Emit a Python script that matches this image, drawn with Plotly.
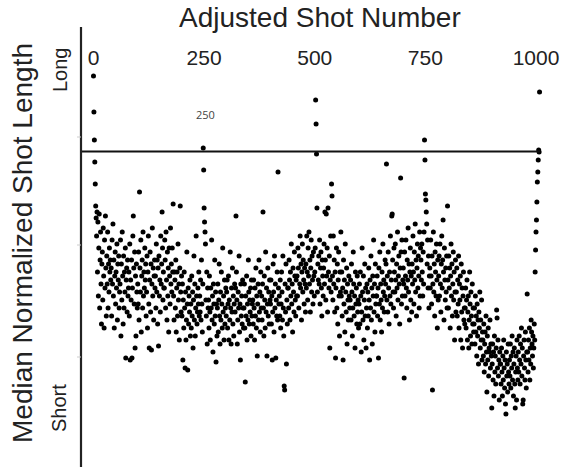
import plotly.graph_objects as go

# Median normalized shot length per adjusted shot number (arbitrary units)
seg_0_199 = [
    96, 87, 80, 74.5, 69, 63.5, 60.5, 56, 62, 47, 59.5, 41, 53, 61.5, 38, 50, 57, 44, 34, 49,
    52, 40, 58, 46, 33, 55, 43, 61, 48, 36, 51, 44, 57, 38, 49, 42, 53, 47, 50, 45,
    48, 36, 55, 44, 59, 41, 50, 33, 46, 52, 39, 47, 43, 54, 35, 49, 45, 51, 38, 42,
    44, 55, 31, 49, 40, 57, 46, 34, 51, 38, 47, 42, 53, 25.5, 45, 48, 37, 50, 41, 43,
    47, 36, 54, 25, 45, 40, 50, 25.5, 43, 56, 61, 48, 39, 52, 28, 46, 31, 49, 42, 38,
    44, 39, 52, 35, 67, 48, 42, 55, 32, 46, 50, 38, 57, 41, 47, 43, 53, 45, 49, 36,
    42, 51, 33, 47, 56, 39, 28, 45, 52, 37, 49, 27.5, 44, 58, 41, 48, 35, 46, 50, 43,
    46, 38, 54, 42, 50, 34, 48, 28.5, 51, 41, 45, 37, 56, 44, 49, 62, 53, 40, 47, 43,
    43, 55, 50, 38, 57, 45, 35, 52, 41, 48, 32, 53, 46, 39, 58, 44, 49, 42, 53, 47,
    64, 41, 35, 47, 45, 38, 50, 32, 43, 47, 36, 54, 40, 44, 30, 48, 63.5, 42, 37, 46,
]
seg_200_399 = [
    36, 44, 25, 40, 33, 47, 38, 23, 42, 30, 35, 52, 39, 22.5, 43, 34, 41, 37, 45, 31,
    39, 33, 46, 36, 42, 28, 40, 51, 35, 44, 31, 38, 56, 41, 34, 37, 43, 39, 47, 36,
    41, 37, 45, 35, 50, 39, 32, 44, 78, 72.5, 63, 59.5, 57, 54, 40, 36, 47, 29, 43, 38,
    40, 33, 46, 37, 30, 43, 38, 55, 35, 41, 27, 44, 39, 34, 50, 36, 42, 24.5, 39, 31,
    38, 44, 32, 40, 49, 36, 29, 42, 35, 47, 39, 33, 53, 37, 41, 30, 45, 34, 38, 43,
    36, 42, 45, 33, 39, 46, 30, 40, 35, 52, 38, 29, 43, 37, 48, 34, 41, 31, 39, 44,
    37, 43, 61, 47, 40, 29, 35, 42, 38, 51, 32, 39, 25, 44, 36, 41, 34, 45, 38, 33,
    38, 44, 33, 19.5, 41, 36, 46, 30, 39, 35, 50, 42, 34, 40, 37, 43, 31, 45, 36, 39,
    40, 34, 45, 38, 30, 43, 36, 48, 33, 41, 26, 39, 44, 35, 50, 37, 42, 32, 47, 38,
    41, 35, 44, 62, 38, 31, 46, 40, 33, 52, 37, 43, 26, 39, 48, 36, 42, 34, 45, 40,
]
seg_400_599 = [
    39, 45, 34, 41, 25, 37, 49, 42, 32, 51, 38, 44, 25.5, 40, 36, 47, 35, 72, 43, 39,
    41, 36, 45, 33, 39, 47, 42, 35, 51, 38, 31, 18.5, 17.5, 44, 37, 49, 24, 40, 34, 43,
    43, 38, 50, 45, 35, 47, 41, 54, 39, 44, 32, 48, 42, 37, 52, 46, 40, 36, 45, 41,
    46, 41, 53, 48, 38, 51, 44, 56, 43, 49, 35, 47, 54, 42, 50, 45, 39, 48, 44, 37,
    49, 43, 56, 47, 40, 53, 46, 57, 44, 50, 37, 48, 55, 42, 51, 45, 39, 52, 46, 41,
    47, 53, 90, 84, 76.5, 63, 42, 49, 45, 51, 44, 55, 39, 48, 52, 43, 36, 50, 46, 41,
    48, 54, 44, 62, 50, 40, 61.5, 46, 53, 37, 63, 47, 43, 51, 28, 45, 56, 42, 69, 66,
    46, 40, 56, 44, 50, 37, 47, 25.5, 43, 53, 38, 49, 34, 45, 52, 41, 31, 47, 42, 57,
    41, 47, 36, 43, 25, 50, 39, 45, 32, 54, 42, 37, 48, 29, 44, 40, 35, 46, 41, 38,
    40, 45, 35, 49, 42, 31, 38, 52, 44, 36, 41, 28, 47, 39, 43, 34, 46, 37, 40, 33,
]
seg_600_799 = [
    39, 44, 34, 47, 41, 27, 37, 53, 42, 35, 46, 30, 40, 49, 36, 43, 28, 38, 44, 33,
    42, 36, 48, 40, 25, 45, 38, 51, 35, 43, 29, 46, 41, 55, 37, 44, 32, 49, 39, 41,
    41, 46, 36, 43, 25.5, 48, 39, 52, 35, 44, 40, 32, 47, 38, 54, 42, 45, 37, 41, 50,
    44, 49, 74, 40, 46, 37, 52, 43, 34, 47, 41, 56, 39, 45, 61, 61.5, 50, 42, 38, 53,
    47, 42, 54, 45, 36, 49, 43, 57, 40, 46, 51, 44, 34, 48, 70.5, 52, 39, 55, 41, 45,
    48, 44, 20.5, 52, 41, 46, 55, 43, 38, 50, 45, 58, 42, 49, 35, 47, 53, 40, 46, 37,
    49, 44, 56, 47, 39, 52, 45, 59, 42, 50, 36, 48, 54, 43, 51, 46, 38, 57, 41, 53,
    50, 45, 54, 47, 41, 52, 44, 57, 80, 75, 66.5, 65, 62, 59, 49, 55, 43, 51, 38, 46,
    48, 43, 55, 46, 39, 51, 17.5, 44, 57, 42, 49, 36, 52, 47, 41, 54, 45, 33, 50, 40,
    46, 51, 41, 54, 44, 37, 49, 56, 43, 50, 60, 47, 35, 53, 45, 40, 48, 42, 51, 38,
]
seg_800_end = [
    63.5, 45, 38, 51, 43, 48, 33, 46, 54, 41, 49, 36, 44, 52, 40, 47, 30, 42, 50, 37,
    42, 48, 36, 45, 39, 51, 33, 44, 40, 46, 30, 49, 37, 43, 28, 41, 47, 35, 38, 34,
    38, 43, 33, 40, 45, 30, 37, 41, 28, 35, 47, 39, 31, 42, 36, 29, 44, 34, 38, 32,
    34, 38, 29, 41, 32, 36, 26, 39, 31, 35, 24, 37, 33, 42, 28, 35, 30, 40, 25, 32,
    30, 26, 34, 22, 29, 32, 24, 36, 27, 17, 31, 25, 33, 21, 28, 27, 35, 23, 29, 26,
    13, 24, 29, 20, 27, 16, 31, 22, 26, 19, 28, 37.5, 35.5, 23, 30, 21, 25, 15, 27, 24,
    24, 19, 28, 22, 16, 26, 20, 30, 23, 18, 25, 14, 11.5, 27, 21, 24, 17, 29, 22, 19,
    25, 21, 29, 18, 26, 23, 31, 20, 27, 16, 24, 28, 19, 13, 22, 26, 15, 30, 23, 20,
    27, 22, 31, 25, 19, 29, 24, 33, 21, 28, 14, 15, 26, 30, 23, 20, 32, 25, 18, 27,
    41.5, 27, 22, 30, 25, 33, 20, 28, 24, 35, 32, 29, 26, 31, 23, 28, 34, 30, 47, 52.5,
    57, 60, 64.5, 69.5, 72, 75, 77.5, 77, 92,
]

median_len = seg_0_199 + seg_200_399 + seg_400_599 + seg_600_799 + seg_800_end
shot_number = list(range(len(median_len)))

x_ticks = [0, 250, 500, 750, 1000]
x_tick_labels = ["0", "250", "500", "750", "1000"]
threshold = 77.1
threshold_end = 1009
note_x, note_y, note_text = 252, 86.5, "250"

FONT = "Arial, 'Liberation Sans', sans-serif"
W, H = 565, 467
ML, MR, MT, MB = 81, 10, 70, 0
PW, PH = W - ML - MR, H - MT - MB


def px_to_paper_x(px):
    return (px - ML) / PW


def py_to_paper_y(py):
    return (H - MB - py) / PH


def label(px, py, text, size, angle=0, family=FONT, color="#222222"):
    fig.add_annotation(x=px_to_paper_x(px), y=py_to_paper_y(py), xref="paper", yref="paper",
                       text=text, showarrow=False, textangle=angle,
                       xanchor="center", yanchor="middle",
                       font=dict(family=family, size=size, color=color))


fig = go.Figure()
fig.add_trace(go.Scatter(
    x=shot_number, y=median_len, mode="markers",
    marker=dict(color="#000000", size=5, line=dict(width=0)),
    hoverinfo="skip", showlegend=False, cliponaxis=False,
))

# horizontal reference line
fig.add_shape(type="line", xref="x", yref="y", x0=-28.2, x1=threshold_end,
              y0=threshold, y1=threshold, line=dict(color="#111111", width=2))
# vertical axis line
fig.add_shape(type="line", xref="paper", yref="paper", x0=0, x1=0,
              y0=0, y1=py_to_paper_y(27), line=dict(color="#222222", width=2.2))
for py in (137, 245, 357):
    fig.add_shape(type="line", xref="paper", yref="paper",
                  x0=px_to_paper_x(77), x1=0, y0=py_to_paper_y(py), y1=py_to_paper_y(py),
                  line=dict(color="#cccccc", width=1))

fig.add_annotation(x=note_x, y=note_y, xref="x", yref="y", text=note_text, showarrow=False,
                   xanchor="center", yanchor="middle",
                   font=dict(family="'Open Sans', sans-serif", size=11, color="#444444"))
label(320, 18, "Adjusted Shot Number", 28)
label(22, 243, "Median Normalized Shot Length", 28, angle=-90)
label(60, 70, "Long", 20, angle=-90)
label(59, 408, "Short", 20, angle=-90)

fig.update_layout(
    width=W, height=H,
    margin=dict(l=ML, r=MR, t=MT, b=MB, pad=0, autoexpand=False),
    paper_bgcolor="white", plot_bgcolor="white",
    hovermode=False,
    xaxis=dict(side="top", range=[-28.2, 1042.9], tickvals=x_ticks, ticktext=x_tick_labels,
               showgrid=False, zeroline=False, showline=False, ticks="", automargin=False,
               tickfont=dict(family=FONT, size=21, color="#222222"), fixedrange=True),
    yaxis=dict(range=[-1.75, 97.5], visible=False, showgrid=False, zeroline=False,
               automargin=False, fixedrange=True),
)

fig.write_html("out.html", config={"displayModeBar": False},
               post_script="document.body.style.margin='0';")
